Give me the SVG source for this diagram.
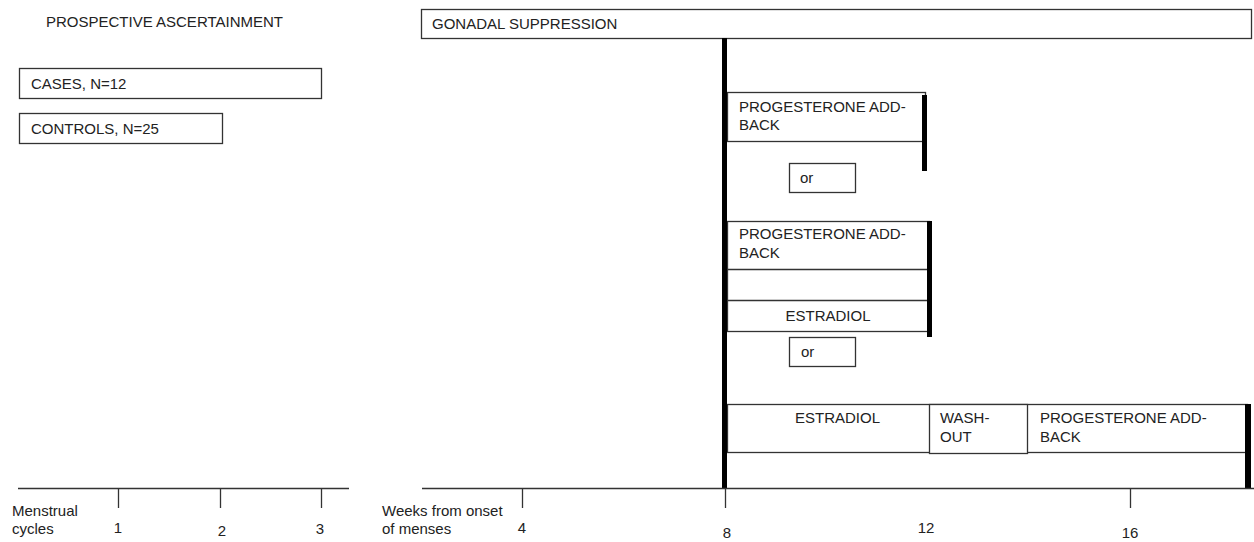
<svg xmlns="http://www.w3.org/2000/svg" width="1254" height="542" viewBox="0 0 1254 542">
<style>
text{font-family:"Liberation Sans",Arial,sans-serif;font-size:15px;fill:#222}
.box{fill:#fff;stroke:#333;stroke-width:1.3}
.ln{stroke:#333;stroke-width:1.3;fill:none}
.bar{fill:#000}
.mid{text-anchor:middle}
</style>
<rect width="1254" height="542" fill="#fff"/>
<g id="title"><text x="46" y="27">PROSPECTIVE ASCERTAINMENT</text></g>
<g id="cases"><rect class="box" x="19.5" y="68.5" width="302" height="30"/><text x="31" y="89">CASES, N=12</text></g>
<g id="controls"><rect class="box" x="19.5" y="113.5" width="203" height="30"/><text x="31" y="134">CONTROLS, N=25</text></g>
<g id="gonadal"><rect class="box" x="421.5" y="9.5" width="830" height="29"/><text x="432" y="29">GONADAL SUPPRESSION</text></g>
<g id="arm1">
<rect class="box" x="727.5" y="92.5" width="198" height="49"/>
<text x="739" y="112">PROGESTERONE ADD-</text><text x="739" y="130">BACK</text>
<rect class="bar" x="922" y="95" width="5" height="76"/>
</g>
<g id="or1"><rect class="box" x="789.5" y="163.5" width="66" height="29"/><text x="800" y="183">or</text></g>
<g id="arm2">
<rect class="box" x="727.5" y="221.5" width="202" height="110"/>
<line class="ln" x1="727" y1="269.5" x2="930" y2="269.5"/>
<line class="ln" x1="727" y1="300.5" x2="930" y2="300.5"/>
<text x="739" y="239">PROGESTERONE ADD-</text><text x="739" y="258">BACK</text>
<text x="828" y="321" class="mid">ESTRADIOL</text>
<rect class="bar" x="927" y="221" width="5" height="116"/>
</g>
<g id="or2"><rect class="box" x="789.5" y="337.5" width="66" height="29"/><text x="801" y="357">or</text></g>
<g id="arm3">
<rect class="box" x="727.5" y="404.5" width="520" height="48"/>
<text x="795" y="423">ESTRADIOL</text>
<rect class="box" x="929.5" y="404.5" width="98" height="49"/>
<text x="940" y="423">WASH-</text><text x="940" y="442">OUT</text>
<text x="1040" y="423">PROGESTERONE ADD-</text><text x="1040" y="442">BACK</text>
<rect class="bar" x="1245" y="404" width="6" height="84"/>
</g>
<g id="connectors">
<rect class="bar" x="722" y="38" width="5" height="451"/>
<line class="ln" x1="18" y1="488.5" x2="349" y2="488.5"/>
<line class="ln" x1="118.5" y1="488" x2="118.5" y2="508"/>
<line class="ln" x1="220.5" y1="488" x2="220.5" y2="508"/>
<line class="ln" x1="321.5" y1="488" x2="321.5" y2="508"/>
<line class="ln" x1="422" y1="488.5" x2="1254" y2="488.5"/>
<line class="ln" x1="522.5" y1="488" x2="522.5" y2="508"/>
<line class="ln" x1="725.5" y1="488" x2="725.5" y2="508"/>
<line class="ln" x1="1130.5" y1="488" x2="1130.5" y2="508"/>
</g>
<g id="axis-labels">
<text x="12" y="516">Menstrual</text><text x="12" y="534">cycles</text>
<text x="118" y="533" class="mid">1</text>
<text x="222" y="536" class="mid">2</text>
<text x="320" y="534" class="mid">3</text>
<text x="382" y="516">Weeks from onset</text><text x="382" y="534">of menses</text>
<text x="522" y="533" class="mid">4</text>
<text x="727" y="538" class="mid">8</text>
<text x="926" y="533" class="mid">12</text>
<text x="1130" y="538" class="mid">16</text>
</g>
</svg>
